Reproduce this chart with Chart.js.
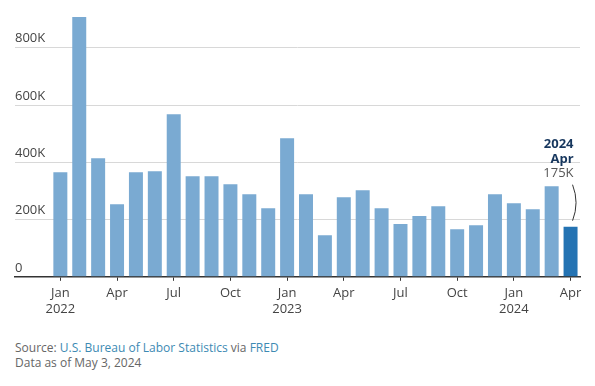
<!DOCTYPE html>
<html>
<head>
<meta charset="utf-8">
<script src="https://cdn.jsdelivr.net/npm/chart.js@4/dist/chart.umd.min.js"></script>
<style>
  html, body { margin: 0; padding: 0; background: #fff; }
  body { width: 595px; height: 386px; position: relative; overflow: hidden; font-family: "Open Sans", Lato, sans-serif; }
  #wrap { position: absolute; left: 0; top: -3px; width: 595px; height: 325px; }
  #foot { position: absolute; left: 15px; top: 340px; font-size: 12px; line-height: 15px; color: #666; }
  #foot .lnk { color: #3d8ab3; }
</style>
</head>
<body>
<div id="wrap"><canvas id="jobs-chart" width="595" height="325"></canvas></div>
<div id="foot">
  <div>Source: <span class="lnk">U.S. Bureau of Labor Statistics</span> via <span class="lnk">FRED</span></div>
  <div>Data as of May 3, 2024</div>
</div>
<script>
// 月份 (Jan 2022 - Apr 2024)
const months = ['Jan', 'Feb', 'Mar', 'Apr', 'May', 'Jun', 'Jul', 'Aug', 'Sep', 'Oct', 'Nov', 'Dec',
                'Jan', 'Feb', 'Mar', 'Apr', 'May', 'Jun', 'Jul', 'Aug', 'Sep', 'Oct', 'Nov', 'Dec',
                'Jan', 'Feb', 'Mar', 'Apr'];
const years = ['2022', '2022', '2022', '2022', '2022', '2022', '2022', '2022', '2022', '2022', '2022', '2022',
               '2023', '2023', '2023', '2023', '2023', '2023', '2023', '2023', '2023', '2023', '2023', '2023',
               '2024', '2024', '2024', '2024'];
// 新增就業人數
const jobs = [365000, 907000, 414000, 253000, 365000, 369000, 568000, 351000, 351000, 323000, 288000, 239000,
              484000, 288000, 145000, 278000, 302000, 239000, 184000, 212000, 246000, 166000, 180000, 288000,
              257000, 236000, 316000, 175000];
const yTicks = [0, 200000, 400000, 600000, 800000];
const xTickIdx = [0, 3, 6, 9, 12, 15, 18, 21, 24, 27];

const lightBlue = '#7aaad2';
const darkBlue = '#2473b3';
const lastIdx = jobs.length - 1;

function fmtK(v) {
    return v === 0 ? '0' : (v / 1000) + 'K';
}

// 最後一根柱的標註
const calloutPlugin = {
    id: 'callout',
    afterDatasetsDraw(chart) {
        const bar = chart.getDatasetMeta(0).data[lastIdx];
        if (!bar) return;
        const ctx = chart.ctx;
        const right = bar.x + bar.width / 2 - 4;
        const top = bar.y;
        ctx.save();
        ctx.textAlign = 'right';
        ctx.textBaseline = 'middle';
        ctx.fillStyle = '#17375e';
        ctx.font = 'bold 13px "Open Sans", sans-serif';
        ctx.fillText(years[lastIdx], right, top - 82);
        ctx.fillText(months[lastIdx], right, top - 67);
        ctx.fillStyle = '#555';
        ctx.font = '13px "Open Sans", sans-serif';
        ctx.fillText(fmtK(jobs[lastIdx]), right, top - 53);
        // 括號線
        ctx.strokeStyle = '#333';
        ctx.lineWidth = 1;
        ctx.beginPath();
        ctx.moveTo(bar.x + 2, top - 42);
        ctx.quadraticCurveTo(bar.x + 9, top - 24, bar.x + 2, top - 6);
        ctx.stroke();
        ctx.restore();
    }
};

new Chart(document.getElementById('jobs-chart'), {
    type: 'bar',
    data: {
        datasets: [{
            data: jobs.map((v, i) => ({ x: i, y: v })),
            backgroundColor: jobs.map((v, i) => i === lastIdx ? darkBlue : lightBlue),
            barPercentage: 0.74,
            categoryPercentage: 1.0,
        }]
    },
    options: {
        responsive: false,
        animation: false,
        layout: { padding: { top: 0, right: 15, left: 15, bottom: 0 } },
        plugins: {
            legend: { display: false },
            tooltip: { enabled: false }
        },
        scales: {
            x: {
                type: 'linear',
                offset: false,
                min: -2.4,
                max: 27.5,
                afterBuildTicks(axis) {
                    axis.ticks = xTickIdx.map(v => ({ value: v }));
                },
                grid: {
                    offset: false,
                    drawOnChartArea: false,
                    drawTicks: true,
                    tickLength: 4,
                    color: '#333',
                },
                border: { display: true, color: '#333', width: 1.5 },
                ticks: {
                    autoSkip: false,
                    maxRotation: 0,
                    padding: 5,
                    color: '#444',
                    font: { family: '"Open Sans", sans-serif', size: 13 },
                    callback(value) {
                        const m = months[value];
                        if (m === 'Jan') return [m, years[value]];
                        return m;
                    }
                }
            },
            y: {
                min: 0,
                max: 950000,
                afterBuildTicks(axis) {
                    axis.ticks = yTicks.map(v => ({ value: v }));
                },
                grid: { color: '#d8d8d8', lineWidth: 1, drawTicks: false },
                border: { display: false },
                ticks: {
                    mirror: true,
                    padding: 0,
                    labelOffset: -9,
                    color: '#444',
                    font: { family: '"Open Sans", sans-serif', size: 13 },
                    callback: v => fmtK(v)
                }
            }
        }
    },
    plugins: [calloutPlugin]
});
</script>
</body>
</html>
